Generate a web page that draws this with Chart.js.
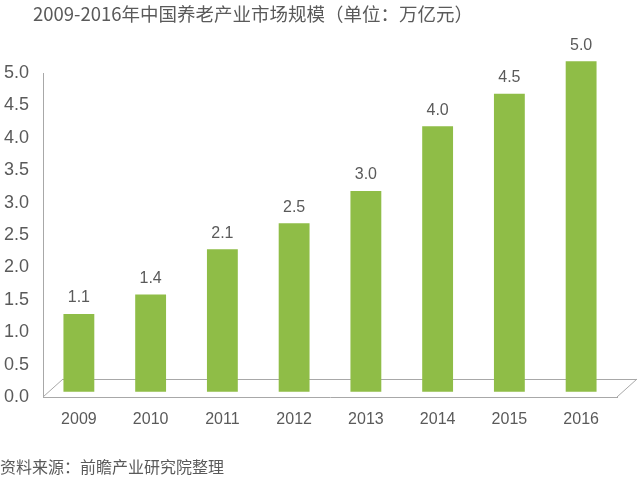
<!DOCTYPE html>
<html>
<head>
<meta charset="utf-8">
<script src="https://cdn.jsdelivr.net/npm/chart.js@4.4.1/dist/chart.umd.min.js"></script>
<style>
  html, body { margin: 0; padding: 0; background: #fff; }
  #wrap { width: 640px; height: 478px; }
</style>
</head>
<body>
<div id="wrap"><canvas id="myChart" width="640" height="478"></canvas></div>
<script>
// Market size of China's elderly care industry, 2009-2016 (trillion yuan)
const years = ['2009', '2010', '2011', '2012', '2013', '2014', '2015', '2016'];
const marketSize = [1.1, 1.4, 2.1, 2.5, 3.0, 4.0, 4.5, 5.0];
const yTicks = [0, 0.5, 1.0, 1.5, 2.0, 2.5, 3.0, 3.5, 4.0, 4.5, 5.0];

const titleText = '2009-2016年中国养老产业市场规模（单位：万亿元）';
const sourceText = '资料来源：前瞻产业研究院整理';

const grey = '#5a5a5a';
const lineGrey = '#a8a8a8';
const barGreen = '#8fbd47';
const fontFamily = '"Noto Sans CJK SC", "Liberation Sans", sans-serif';

// fake 3D floor, drawn behind the bars
const floorPlugin = {
    id: 'floor',
    beforeDatasetsDraw(chart) {
        const ctx = chart.ctx;
        const area = chart.chartArea;
        const dx = 20, dy = 18;
        ctx.save();
        ctx.strokeStyle = lineGrey;
        ctx.lineWidth = 1;
        ctx.beginPath();
        ctx.moveTo(area.left + dx, area.bottom - dy + 0.5);
        ctx.lineTo(area.right + dx, area.bottom - dy + 0.5);
        ctx.moveTo(area.left, area.bottom);
        ctx.lineTo(area.left + dx, area.bottom - dy);
        ctx.moveTo(area.right, area.bottom);
        ctx.lineTo(area.right + dx, area.bottom - dy);
        ctx.stroke();
        ctx.restore();
    }
};

// value labels above bars + title and source text
const textPlugin = {
    id: 'texts',
    afterDatasetsDraw(chart) {
        const ctx = chart.ctx;
        ctx.save();
        ctx.fillStyle = grey;
        ctx.font = '16px "Liberation Sans", sans-serif';
        ctx.textAlign = 'center';
        ctx.textBaseline = 'bottom';
        chart.getDatasetMeta(0).data.forEach((bar, i) => {
            ctx.fillText(marketSize[i].toFixed(1), bar.x, bar.y - 8);
        });

        ctx.textAlign = 'left';
        ctx.textBaseline = 'middle';
        ctx.font = '18.5px ' + fontFamily;
        ctx.fillText(titleText, 33, 14);
        ctx.font = '16px ' + fontFamily;
        ctx.fillText(sourceText, 0, 467);
        ctx.restore();
    }
};

const data = {
    labels: years,
    datasets: [
      {
        label: '市场规模',
        data: marketSize,
        backgroundColor: barGreen,
        borderWidth: 0,
        barPercentage: 0.43,
        categoryPercentage: 1,
        base: -0.1,
        clip: false,
        yAxisID: 'y2',
      },
    ]
};

const config = {
    type: 'bar',
    data: data,
    options: {
        responsive: false,
        animation: false,
        layout: { padding: { top: 73, right: 23, left: 0, bottom: 0 } },
        plugins: {
            legend: { display: false },
            tooltip: { enabled: false },
        },
        scales: {
            x: {
                grid: { display: false, drawTicks: false },
                border: { display: true, color: lineGrey },
                ticks: {
                    color: grey,
                    padding: 13,
                    font: { size: 16, family: '"Liberation Sans", sans-serif' },
                },
                afterFit(scale) { scale.height = 81; },
            },
            y: {
                min: 0,
                max: 5,
                grid: { display: false, drawTicks: false },
                border: { display: true, color: lineGrey },
                afterBuildTicks(scale) {
                    scale.ticks = yTicks.map(v => ({ value: v }));
                },
                ticks: {
                    color: grey,
                    padding: 14,
                    font: { size: 18, family: '"Liberation Sans", sans-serif' },
                    callback: v => Number(v).toFixed(1),
                },
                afterFit(scale) { scale.width = 43; },
            },
            // bars sit a bit higher than the axis (3D depth)
            y2: {
                display: false,
                min: -0.18,
                max: 4.82,
            },
        },
    },
    plugins: [floorPlugin, textPlugin],
};

const myChart = new Chart(
    document.getElementById('myChart'),
    config
);
</script>
</body>
</html>
